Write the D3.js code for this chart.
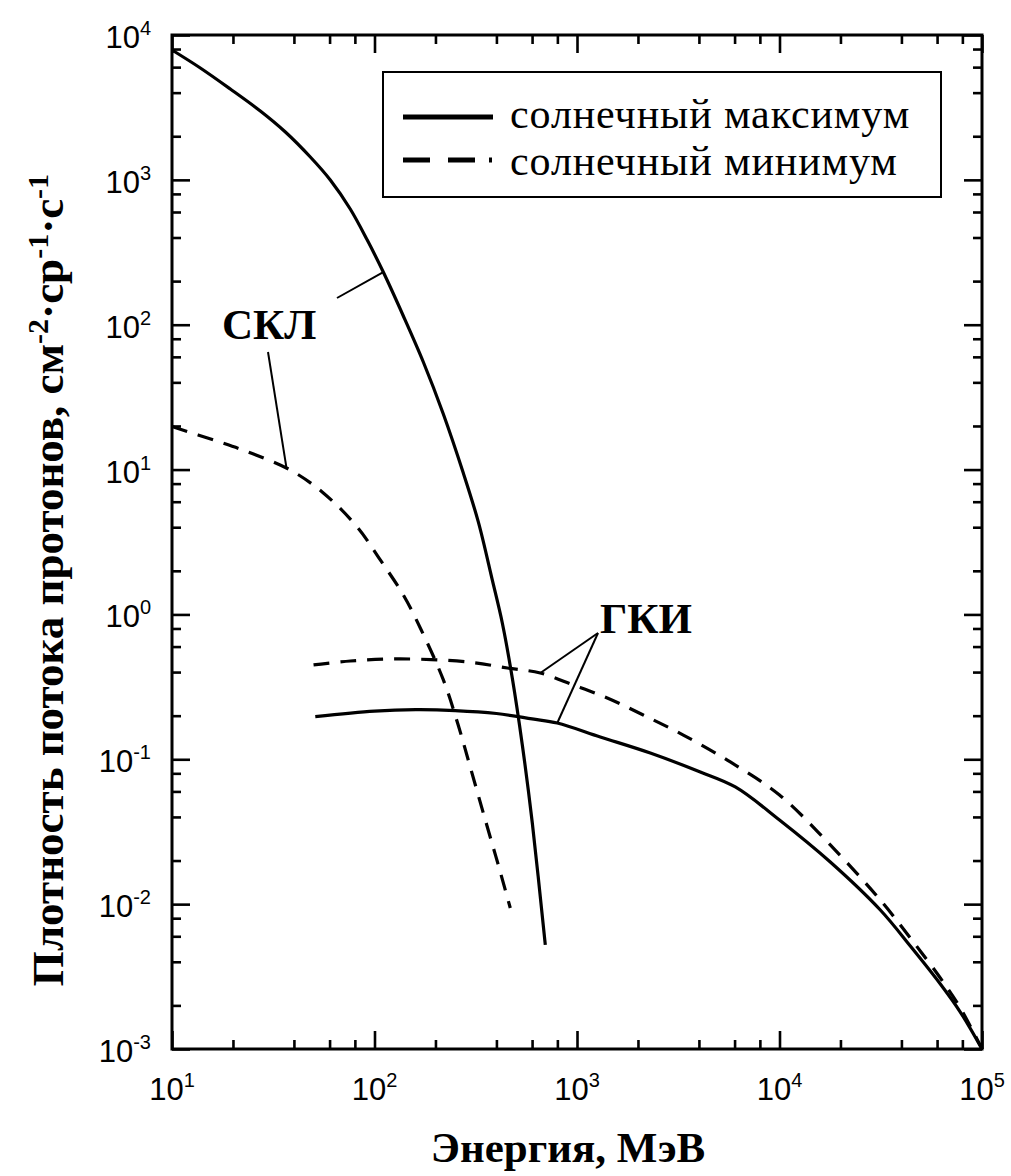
<!DOCTYPE html>
<html>
<head>
<meta charset="utf-8">
<script src="https://cdn.jsdelivr.net/npm/d3@7"></script>
<style>
  body { margin: 0; background: #fff; }
</style>
</head>
<body>
<div id="chart"></div>
<script>
// --- data (energy in MeV, flux in cm^-2 sr^-1 s^-1)
const sclMaxE = [10, 13.8, 19.4, 27.3, 36.3, 48.2, 60.5, 75.9, 92.1, 110.5, 138.8, 174.2, 218.7, 274.5, 325.6, 381.6, 427.7, 479.1, 537, 601.6, 697.4];
const sclMaxF = [7880, 5920, 4240, 2988, 2140, 1438, 998, 629, 384, 231, 114.9, 55.3, 24.2, 9.47, 4.35, 1.73, 0.873, 0.364, 0.1256, 0.0363, 0.00523];

const sclMinE = [10, 16.7, 24.9, 38.4, 55.9, 82.2, 106.8, 138.8, 168.3, 218.8, 259, 297, 352.5, 408.7, 468.3];
const sclMinF = [19.8, 15.7, 12.9, 9.93, 6.9, 4.01, 2.38, 1.362, 0.806, 0.353, 0.1725, 0.0885, 0.0381, 0.01864, 0.0094];

const gcrMinE = [50, 76, 134, 287, 453, 659, 959, 1411, 2124, 3350, 5715, 10000, 17815, 31470, 44250, 62260, 78130, 100000];
const gcrMinF = [0.448, 0.477, 0.493, 0.47, 0.427, 0.394, 0.326, 0.265, 0.202, 0.147, 0.0958, 0.0567, 0.02562, 0.01068, 0.00584, 0.00309, 0.00192, 0.001];

const gcrMaxE = [51, 100, 160, 250, 400, 600, 799, 1303, 2301, 4063, 6049, 10000, 17815, 31470, 44250, 62260, 78130, 100000];
const gcrMaxF = [0.197, 0.215, 0.22, 0.217, 0.207, 0.19, 0.178, 0.1426, 0.1105, 0.0817, 0.0644, 0.0381, 0.01954, 0.00911, 0.00514, 0.00281, 0.0018, 0.001];

const xMajor = [1e1, 1e2, 1e3, 1e4, 1e5];
const xExp = ["1", "2", "3", "4", "5"];
const yMajor = [1e-3, 1e-2, 1e-1, 1e0, 1e1, 1e2, 1e3, 1e4];
const yExp = ["-3", "-2", "-1", "0", "1", "2", "3", "4"];
const legendLabels = ["солнечный максимум", "солнечный минимум"];

const width = 1011;
const height = 1176;
const pLeft = 172, pRight = 982, pTop = 35, pBottom = 1049;

const svg = d3.select("#chart").append("svg")
  .attr("width", width)
  .attr("height", height);

const x = d3.scaleLog().domain([10, 1e5]).range([pLeft, pRight]);
const y = d3.scaleLog().domain([1e-3, 1e4]).range([pBottom, pTop]);

// minor ticks at 2,4,6,8 of each decade
function minors(lo, hi) {
  const out = [];
  for (let e = lo; e < hi; e++) {
    [2, 4, 6, 8].forEach(function(m) { out.push(m * Math.pow(10, e)); });
  }
  return out;
}
const xMinor = minors(1, 5);
const yMinor = minors(-3, 4);

const majorLen = 18, minorLen = 9;

function styleAxis(g) {
  g.select(".domain").remove();
  g.selectAll("line").attr("stroke", "#000").attr("stroke-width", 2.6);
}

// bottom / top
svg.append("g").attr("transform", "translate(0," + pBottom + ")")
  .call(d3.axisBottom(x).tickValues(xMajor).tickSize(-majorLen).tickFormat("")).call(styleAxis);
svg.append("g").attr("transform", "translate(0," + pBottom + ")")
  .call(d3.axisBottom(x).tickValues(xMinor).tickSize(-minorLen).tickFormat("")).call(styleAxis);
svg.append("g").attr("transform", "translate(0," + pTop + ")")
  .call(d3.axisTop(x).tickValues(xMajor).tickSize(-majorLen).tickFormat("")).call(styleAxis);
svg.append("g").attr("transform", "translate(0," + pTop + ")")
  .call(d3.axisTop(x).tickValues(xMinor).tickSize(-minorLen).tickFormat("")).call(styleAxis);
// left / right
svg.append("g").attr("transform", "translate(" + pLeft + ",0)")
  .call(d3.axisLeft(y).tickValues(yMajor).tickSize(-majorLen).tickFormat("")).call(styleAxis);
svg.append("g").attr("transform", "translate(" + pLeft + ",0)")
  .call(d3.axisLeft(y).tickValues(yMinor).tickSize(-minorLen).tickFormat("")).call(styleAxis);
svg.append("g").attr("transform", "translate(" + pRight + ",0)")
  .call(d3.axisRight(y).tickValues(yMajor).tickSize(-majorLen).tickFormat("")).call(styleAxis);
svg.append("g").attr("transform", "translate(" + pRight + ",0)")
  .call(d3.axisRight(y).tickValues(yMinor).tickSize(-minorLen).tickFormat("")).call(styleAxis);

// frame
svg.append("rect")
  .attr("x", pLeft).attr("y", pTop)
  .attr("width", pRight - pLeft).attr("height", pBottom - pTop)
  .attr("fill", "none").attr("stroke", "#000").attr("stroke-width", 3);

// tick labels
const sansFont = "'Liberation Sans', Arial, sans-serif";
const serifFont = "'Liberation Serif', 'Times New Roman', serif";

xMajor.forEach(function(v, i) {
  const t = svg.append("text")
    .attr("x", x(v)).attr("y", 1100)
    .attr("text-anchor", "middle")
    .attr("font-family", sansFont).attr("font-size", 31);
  t.append("tspan").text("10");
  t.append("tspan").attr("dy", -13).attr("font-size", 20).text(xExp[i]);
});

yMajor.forEach(function(v, i) {
  const t = svg.append("text")
    .attr("x", 151).attr("y", y(v) + 13)
    .attr("text-anchor", "end")
    .attr("font-family", sansFont).attr("font-size", 31);
  t.append("tspan").text("10");
  t.append("tspan").attr("dy", -13).attr("font-size", 20).text(yExp[i]);
});

// axis titles
svg.append("text")
  .attr("x", 568).attr("y", 1162)
  .attr("text-anchor", "middle")
  .attr("font-family", serifFont).attr("font-weight", "bold").attr("font-size", 43)
  .text("Энергия, МэВ");

const yt = svg.append("text")
  .attr("transform", "translate(63,580) rotate(-90)")
  .attr("text-anchor", "middle")
  .attr("font-family", serifFont).attr("font-weight", "bold").attr("font-size", 45);
yt.append("tspan").text("Плотность потока протонов, см");
yt.append("tspan").attr("dy", -15).attr("font-size", 30).text("-2");
yt.append("tspan").attr("dy", 15).text("·ср");
yt.append("tspan").attr("dy", -15).attr("font-size", 30).text("-1");
yt.append("tspan").attr("dy", 15).text("·с");
yt.append("tspan").attr("dy", -15).attr("font-size", 30).text("-1");

// curves
const line = d3.line()
  .x(function(d) { return x(d[0]); })
  .y(function(d) { return y(d[1]); })
  .curve(d3.curveCatmullRom.alpha(0.5));

const series = [
  { e: sclMaxE, f: sclMaxF, dash: null },
  { e: sclMinE, f: sclMinF, dash: "16,11" },
  { e: gcrMaxE, f: gcrMaxF, dash: null },
  { e: gcrMinE, f: gcrMinF, dash: "16,11" }
];

series.forEach(function(s) {
  const pts = d3.zip(s.e, s.f);
  svg.append("path")
    .attr("d", line(pts))
    .attr("fill", "none")
    .attr("stroke", "#000")
    .attr("stroke-width", 3.2)
    .attr("stroke-dasharray", s.dash);
});

// annotations
svg.append("text")
  .attr("x", 222).attr("y", 339)
  .attr("font-family", serifFont).attr("font-weight", "bold").attr("font-size", 43)
  .text("СКЛ");
svg.append("text")
  .attr("x", 600).attr("y", 633)
  .attr("font-family", serifFont).attr("font-weight", "bold").attr("font-size", 43)
  .text("ГКИ");

const pointers = [
  [[337, 298], [x(110.5), y(231)]],
  [[268, 352], [x(36.7), y(10.4)]],
  [[598, 633], [x(659), y(0.394)]],
  [[598, 633], [x(799), y(0.178)]]
];
pointers.forEach(function(p) {
  svg.append("line")
    .attr("x1", p[0][0]).attr("y1", p[0][1])
    .attr("x2", p[1][0]).attr("y2", p[1][1])
    .attr("stroke", "#000").attr("stroke-width", 2);
});

// legend
const lg = svg.append("g");
lg.append("rect")
  .attr("x", 383).attr("y", 72).attr("width", 558).attr("height", 125)
  .attr("fill", "#fff").attr("stroke", "#000").attr("stroke-width", 2);
lg.append("line")
  .attr("x1", 403).attr("x2", 493).attr("y1", 117).attr("y2", 117)
  .attr("stroke", "#000").attr("stroke-width", 5);
lg.append("line")
  .attr("x1", 403).attr("x2", 493).attr("y1", 160).attr("y2", 160)
  .attr("stroke", "#000").attr("stroke-width", 5)
  .attr("stroke-dasharray", "27,18,27,14,3,100");
legendLabels.forEach(function(l, i) {
  lg.append("text")
    .attr("x", 510).attr("y", 128 + i * 47)
    .attr("font-family", serifFont).attr("font-size", 42)
    .attr("letter-spacing", 0.9)
    .text(l);
});
</script>
</body>
</html>
